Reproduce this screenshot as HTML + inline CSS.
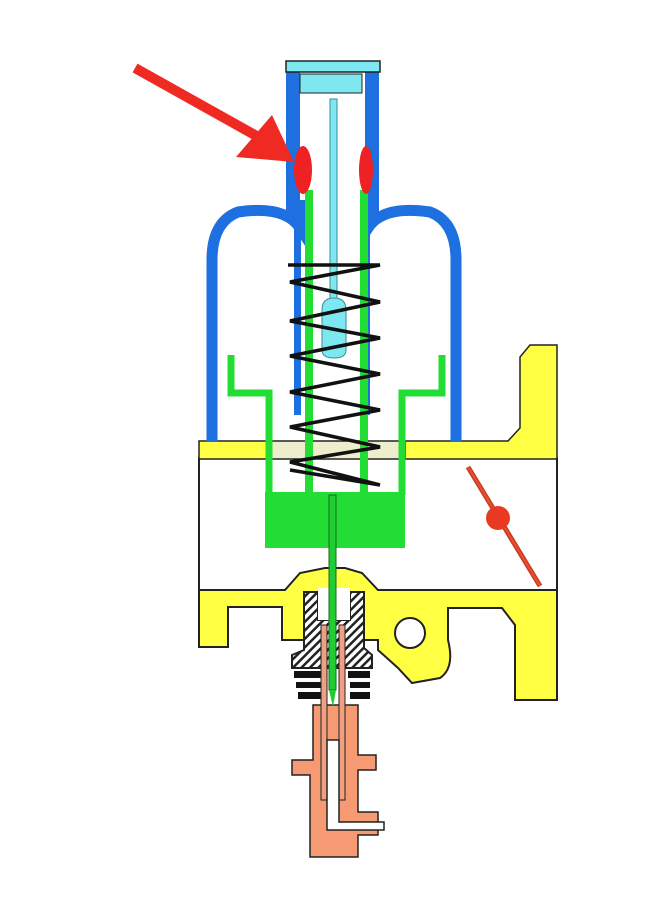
<!DOCTYPE html>
<html><head><meta charset="utf-8"><style>html,body{margin:0;padding:0;background:#fff}svg{display:block}</style></head>
<body>
<svg width="666" height="902" viewBox="0 0 666 902" xmlns="http://www.w3.org/2000/svg">
<defs>
<pattern id="h" width="6" height="6" patternUnits="userSpaceOnUse" patternTransform="rotate(45)">
<rect width="6" height="6" fill="#fff"/><rect width="2.5" height="6" fill="#222"/></pattern>
</defs>
<!-- chamber -->
<rect x="199" y="458" width="358" height="132" fill="#fff" stroke="#222" stroke-width="2"/>
<!-- yellow top plate -->
<rect x="199" y="441" width="70" height="18" fill="#ffff44" stroke="#222" stroke-width="1.5"/>
<path d="M405 441 L508 441 L520 428 L520 357 L530 345 L557 345 L557 459 L405 459 Z" fill="#ffff44" stroke="#222" stroke-width="1.5"/>
<rect x="269" y="441" width="136" height="18" fill="#eeeecc" stroke="#222" stroke-width="1.5"/>
<!-- blue dome -->
<path d="M300 200 L300 228 Q285 205 238 212 Q212 222 212 260 L212 442" fill="none" stroke="#1e6fe0" stroke-width="11"/>
<path d="M368 200 L368 228 Q383 205 430 212 Q456 222 456 260 L456 442" fill="none" stroke="#1e6fe0" stroke-width="11"/>
<rect x="286" y="70" width="14" height="145" fill="#1e6fe0"/>
<rect x="365" y="70" width="14" height="145" fill="#1e6fe0"/>
<rect x="294" y="210" width="7" height="205" fill="#1e6fe0"/>
<rect x="363" y="210" width="7" height="205" fill="#1e6fe0"/>
<!-- cap -->
<rect x="286" y="61" width="94" height="11" fill="#7ee8f0" stroke="#222" stroke-width="1.5"/>
<rect x="300" y="74" width="62" height="19" fill="#7ee8f0" stroke="#222" stroke-width="1"/>
<rect x="330" y="99" width="7" height="200" fill="#7ee8f0" stroke="#3a8a9a" stroke-width="1"/>
<path d="M322 310 Q322 298 334 298 Q346 298 346 310 L346 350 Q346 358 334 358 Q322 358 322 350 Z" fill="#7ee8f0" stroke="#3a8a9a" stroke-width="1"/>
<!-- green -->
<path d="M231 355 L231 393 L269 393 L269 495" fill="none" stroke="#22dd33" stroke-width="7"/>
<path d="M442 355 L442 393 L402 393 L402 495" fill="none" stroke="#22dd33" stroke-width="7"/>
<rect x="305" y="190" width="8" height="305" fill="#22dd33"/>
<rect x="360" y="190" width="8" height="305" fill="#22dd33"/>
<rect x="265" y="492" width="140" height="56" fill="#22dd33"/>
<!-- spring -->
<g stroke="#111" stroke-width="3.5" fill="none">
<path d="M288 265 L380 265 L290 282 L380 302 L290 321 L380 338 L290 356 L380 374 L290 392 L380 410 L290 427 L380 447 L290 462 L380 485 L290 470"/>
</g>
<!-- red -->
<ellipse cx="303" cy="170" rx="9" ry="24" fill="#ee2222"/>
<ellipse cx="366" cy="170" rx="7" ry="24" fill="#ee2222"/>
<line x1="135" y1="68" x2="262" y2="139" stroke="#ee2a22" stroke-width="10"/>
<polygon points="236,157 272,115 294,162" fill="#ee2a22"/>
<!-- throttle -->
<line x1="468" y1="467" x2="540" y2="586" stroke="#c83a22" stroke-width="5"/>
<line x1="468" y1="467" x2="540" y2="586" stroke="#e85030" stroke-width="2"/>
<circle cx="498" cy="518" r="12" fill="#e83a22"/>
<!-- bottom yellow -->
<path d="M199 590 L285 590 L300 573 L325 568 L345 568 L362 573 L378 590 L557 590 L557 700 L515 700 L515 625 L502 608 L448 608 L448 640 Q455 668 440 678 L412 683 L398 668 L378 650 L378 640 L282 640 L282 607 L228 607 L228 647 L199 647 Z" fill="#ffff44" stroke="#222" stroke-width="2"/>
<circle cx="410" cy="633" r="15" fill="#fff" stroke="#222" stroke-width="2"/>
<!-- nut -->
<path d="M304 592 L304 650 L292 655 L292 668 L372 668 L372 655 L364 648 L364 592 L350 592 L350 620 L318 620 L318 592 Z" fill="url(#h)" stroke="#222" stroke-width="2"/>
<rect x="318" y="588" width="32" height="32" fill="#fff"/>
<g fill="#111"><rect x="294" y="671" width="28" height="7"/><rect x="296" y="682" width="26" height="6"/><rect x="298" y="692" width="24" height="7"/>
<rect x="348" y="671" width="22" height="7"/><rect x="350" y="682" width="20" height="6"/><rect x="350" y="692" width="20" height="7"/></g>
<!-- orange -->
<path d="M313 705 L313 760 L292 760 L292 775 L310 775 L310 857 L358 857 L358 835 L378 835 L378 812 L358 812 L358 770 L376 770 L376 755 L358 755 L358 705 Z" fill="#f59a72" stroke="#222" stroke-width="1.5"/>
<rect x="321" y="625" width="6" height="175" fill="#f0a080" stroke="#222" stroke-width="1"/>
<rect x="339" y="625" width="6" height="175" fill="#f0a080" stroke="#222" stroke-width="1"/>
<path d="M327 740 L327 830 L384 830 L384 822 L339 822 L339 740 Z" fill="#fff" stroke="#222" stroke-width="1.5"/>
<!-- needle -->
<rect x="329" y="495" width="7" height="195" fill="#22cc33" stroke="#1a6a1a" stroke-width="1"/>
<polygon points="329,690 336,690 333,707" fill="#22cc33"/>
</svg>
</body></html>
